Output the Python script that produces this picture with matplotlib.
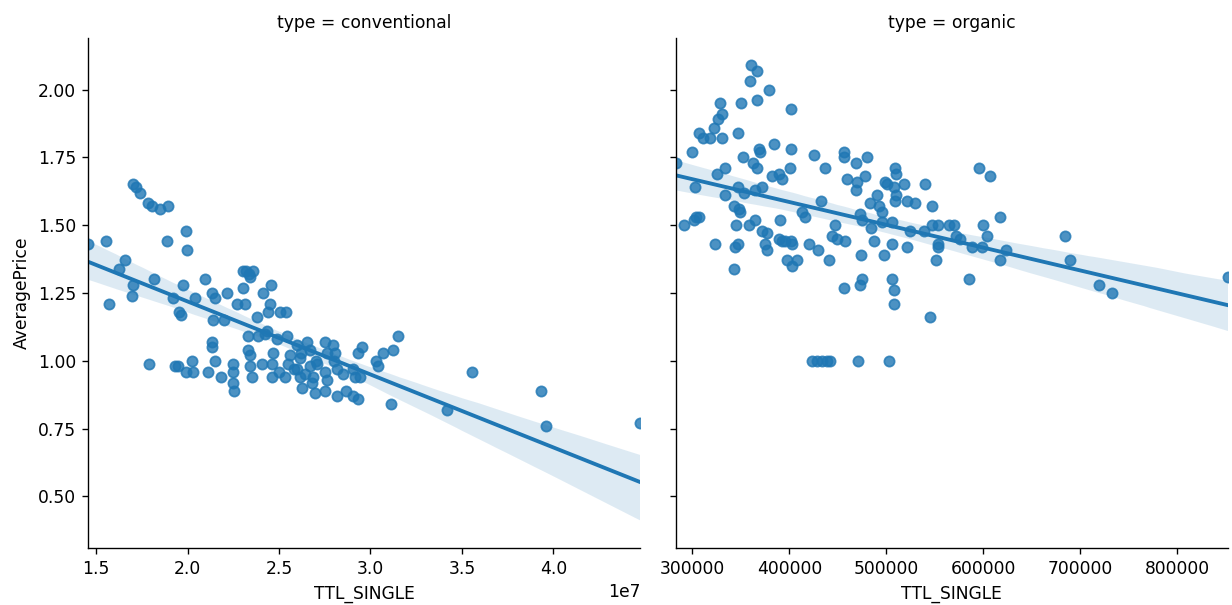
import numpy as np
import matplotlib
matplotlib.use("Agg")
import matplotlib.pyplot as plt
import seaborn as sns

# ---- data ----
types = ["conventional", "organic"]

conv_ttl_e7 = [
    1.456, 1.555, 1.659, 1.626, 1.702, 1.697, 1.571, 1.702, 1.719, 1.741,
    1.784, 1.806, 1.850, 1.894, 1.992, 1.888, 1.998, 1.817, 1.976, 1.921,
    1.954, 1.965, 2.042, 1.790, 1.932, 1.949, 1.992, 2.025, 2.031, 2.096,
    2.135, 2.151, 2.217, 2.271, 2.304, 2.342, 2.304, 2.457, 2.413, 2.452,
    2.506, 2.539, 2.381, 2.135, 2.135, 2.151, 2.113, 2.184, 2.249, 2.249,
    2.249, 2.255, 2.342, 2.342, 2.353, 2.331, 2.386, 2.435, 2.490, 2.468,
    2.463, 2.463, 2.534, 2.550, 2.545, 2.599, 2.616, 2.599, 2.616, 2.627,
    2.654, 2.671, 2.671, 2.687, 2.698, 2.709, 2.753, 2.764, 2.753, 2.753,
    2.321, 2.337, 2.359, 2.140, 2.200, 2.315, 2.408, 2.424, 2.331, 2.441,
    3.152, 3.125, 3.070, 3.032, 3.043, 2.955, 2.933, 2.906, 2.917, 2.944,
    2.818, 2.868, 2.818, 2.906, 2.933, 3.114, 2.796, 2.807, 3.557, 3.420,
    3.934, 3.962, 4.476,
    2.580, 2.640, 2.700, 2.760, 2.850, 2.500, 2.560, 2.620, 2.680, 2.800,
]
conv_price = [
    1.43, 1.44, 1.37, 1.34, 1.28, 1.24, 1.21, 1.65, 1.64, 1.62,
    1.58, 1.57, 1.56, 1.57, 1.48, 1.44, 1.41, 1.30, 1.28, 1.23,
    1.18, 1.17, 1.23, 0.99, 0.98, 0.98, 0.96, 1.00, 0.96, 1.30,
    1.25, 1.23, 1.25, 1.21, 1.33, 1.31, 1.27, 1.28, 1.25, 1.21,
    1.18, 1.18, 1.16, 1.07, 1.05, 1.00, 0.96, 0.94, 0.99, 0.96,
    0.92, 0.89, 1.02, 0.98, 0.94, 1.09, 1.09, 1.11, 1.08, 1.03,
    0.99, 0.94, 0.94, 0.99, 1.09, 1.06, 1.01, 0.97, 0.94, 0.90,
    1.07, 1.04, 0.98, 0.94, 0.88, 0.99, 1.07, 1.03, 0.96, 0.89,
    1.33, 1.32, 1.33, 1.15, 1.15, 1.21, 0.99, 1.10, 1.04, 1.18,
    1.09, 1.04, 1.03, 1.00, 0.98, 1.05, 1.03, 0.97, 0.94, 0.94,
    0.97, 0.89, 0.87, 0.87, 0.86, 0.84, 1.06, 1.03, 0.96, 0.82,
    0.89, 0.76, 0.77,
    0.97, 0.95, 1.00, 0.93, 0.95, 0.96, 1.02, 1.03, 0.92, 1.00,
]

org_ttl = [
    282500, 300000, 306700, 311300, 318600, 321700, 326800, 330400, 328900, 330900,
    346900, 350500, 352600, 359800, 360800, 366700, 366700, 379400, 368400, 370100,
    384500, 402100, 402100, 425800, 456000, 456000, 479900, 302100, 325500, 334000,
    362200, 366700, 346700, 353600, 365000, 371900, 382500, 389700, 392800, 400500,
    436400, 459500, 468600, 477600, 469800, 469100, 508600, 510000, 499000, 500700,
    517800, 507500, 540200, 595900, 607200, 334000, 490400, 510300, 291000, 301300,
    306500, 304100, 342600, 347700, 349500, 344800, 358000, 364900, 371900, 377000,
    390700, 389000, 413100, 416500, 432500, 444000, 447400, 473200, 475300, 483500,
    492100, 484000, 495900, 495600, 505900, 509300, 521400, 529900, 547100, 524800,
    539200, 547100, 553100, 564200, 569400, 572200, 576300, 600300, 604100, 617500,
    457700, 449200, 486900, 323700, 344300, 347100, 343300, 375300, 377000, 392500,
    395900, 402100, 402800, 397600, 402800, 407900, 419900, 429400, 441200, 474200,
    497200, 505900, 521100, 553100, 553600, 551000, 588400, 598700, 623700, 617500,
    456000, 472700, 474800, 506200, 508300, 508300, 544700, 584900, 684600, 689700,
    719900, 732700, 852600, 423400, 428600, 433700, 438900, 442300, 470400, 502400,
]
org_price = [
    1.73, 1.77, 1.84, 1.82, 1.82, 1.86, 1.89, 1.91, 1.95, 1.82,
    1.84, 1.95, 1.75, 2.03, 2.09, 2.07, 1.96, 2.00, 1.78, 1.77,
    1.80, 1.78, 1.93, 1.76, 1.77, 1.75, 1.75, 1.64, 1.69, 1.71,
    1.73, 1.71, 1.64, 1.62, 1.63, 1.64, 1.68, 1.69, 1.67, 1.71,
    1.71, 1.67, 1.73, 1.68, 1.66, 1.63, 1.71, 1.69, 1.66, 1.65,
    1.65, 1.64, 1.65, 1.71, 1.68, 1.61, 1.61, 1.61, 1.50, 1.52,
    1.53, 1.53, 1.57, 1.56, 1.55, 1.50, 1.50, 1.52, 1.48, 1.47,
    1.52, 1.45, 1.55, 1.53, 1.59, 1.46, 1.50, 1.54, 1.52, 1.58,
    1.57, 1.49, 1.55, 1.51, 1.51, 1.59, 1.59, 1.58, 1.57, 1.48,
    1.48, 1.50, 1.50, 1.50, 1.50, 1.46, 1.45, 1.50, 1.46, 1.53,
    1.44, 1.45, 1.44, 1.43, 1.42, 1.43, 1.34, 1.43, 1.41, 1.44,
    1.44, 1.44, 1.43, 1.37, 1.35, 1.37, 1.43, 1.41, 1.37, 1.39,
    1.39, 1.43, 1.42, 1.43, 1.42, 1.37, 1.42, 1.42, 1.41, 1.37,
    1.27, 1.28, 1.30, 1.30, 1.26, 1.21, 1.16, 1.30, 1.46, 1.37,
    1.28, 1.25, 1.31, 1.00, 1.00, 1.00, 1.00, 1.00, 1.00, 1.00,
]

conv_ttl = np.array(conv_ttl_e7) * 1e7
series = [(conv_ttl, np.array(conv_price)), (np.array(org_ttl, float), np.array(org_price))]

# ---- figure ----
W, H = 1232, 605
DPI = 123.2
fig, axes = plt.subplots(1, 2, figsize=(W / DPI, H / DPI), dpi=DPI, sharey=True)
fig.subplots_adjust(left=88 / W, right=1228 / W, bottom=1 - 548 / H, top=1 - 38 / H,
                    wspace=35 / 552)

for ax, (x, y), t in zip(axes, series, types):
    sns.regplot(x=x, y=y, ax=ax, color="C0", truncate=True, seed=0,
                scatter_kws={"s": 36, "alpha": 0.8, "linewidths": 1.0})
    ax.set_xlim(x.min(), x.max())
    ax.set_title(f"type = {t}", fontsize=10)
    ax.set_xlabel("TTL_SINGLE", fontsize=10)
    ax.tick_params(labelsize=10)

axes[0].set_ylabel("AveragePrice", fontsize=10)
axes[1].set_ylabel("")
axes[0].set_ylim(0.31, 2.19)
sns.despine(fig=fig)

fig.savefig("out.png", dpi=DPI)
